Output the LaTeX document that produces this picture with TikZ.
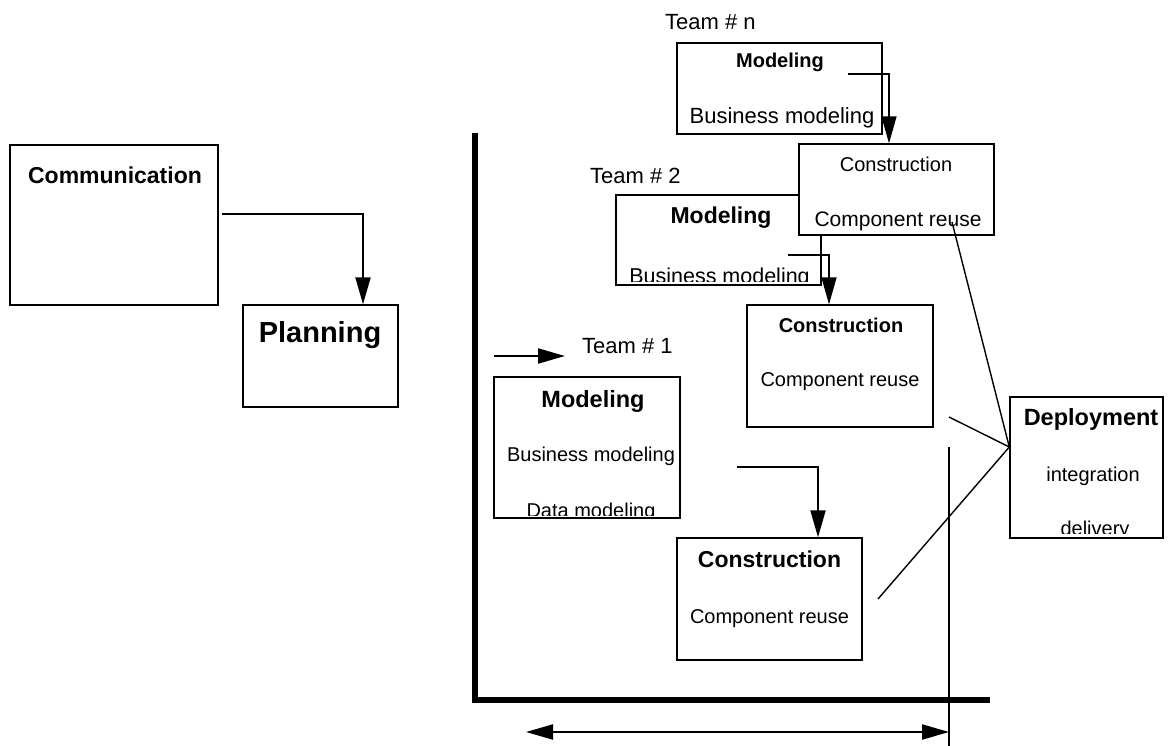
\documentclass[tikz,border=0pt]{standalone}
\usepackage{fontspec}
\setmainfont{Liberation Sans}
\usepackage{tikz}
\usetikzlibrary{arrows.meta,positioning}

\begin{document}
\begin{tikzpicture}[x=1pt,y=-1pt,
  box/.style={draw,line width=1.4pt,fill=white,inner sep=0pt},
  txt/.style={anchor=base,inner sep=0pt,font=\fontsize{#1}{#1}\selectfont},
  btxt/.style={anchor=base,inner sep=0pt,font=\bfseries\fontsize{#1}{#1}\selectfont},
  flow/.style={line width=2pt,-{Triangle[length=27pt,width=15pt]}},
  link/.style={line width=1.4pt}]
\useasboundingbox (0,0) rectangle (1169,746);
% time axis
\coordinate (top) at (475,133);
\coordinate (orig) at (475,700);
\coordinate (xend) at (990,700);
\draw[line width=6pt] (top) -- (orig) -- (xend);
% communication and planning
\node[box,minimum width=208pt,minimum height=160pt] (comm) at (114,225) {};
\node[btxt=23] (commt) at (115,183) {Communication};
\node[box,minimum width=155pt,minimum height=102pt] (plan) at (320.5,356) {};
\node[btxt=29] (plant) at (320,342) {Planning};
\coordinate (ca) at (222,214);
\draw[flow] (ca) -| ([xshift=42.5pt]plan.north);
% team n
\node[txt=22,anchor=base west] (tn) at (665,30) {Team \# n};
\node[box,minimum width=205pt,minimum height=91pt] (mn) at (779.5,88.5) {};
\node[btxt=20] (mnt) at (780,68) {Modeling};
\node[txt=22] (mnb) at (782,124) {Business modeling};
% team 2
\node[txt=22,anchor=base west] (t2) at (590,184) {Team \# 2};
\node[box,minimum width=205pt,minimum height=90pt] (m2) at (718.5,240) {};
\node[btxt=23] (m2t) at (721,223) {Modeling};
\begin{scope}
\clip ([yshift=4pt]m2.south west) rectangle (m2.north east);
\node[txt=21.5] (m2b) at (719.5,283) {Business modeling};
\end{scope}
\node[box,minimum width=195pt,minimum height=91pt] (cn) at (896.5,189.5) {};
\node[txt=20] (cnt) at (896,172) {Construction};
\node[txt=21] (cnb) at (898,226) {Component reuse};
\node[box,minimum width=186pt,minimum height=122pt] (c2) at (840,366) {};
\node[btxt=20] (c2t) at (841,332) {Construction};
\node[txt=20] (c2b) at (840,386) {Component reuse};
% team 1
\coordinate (a0) at (494,356);
\coordinate (a0b) at (565,356);
\draw[flow] (a0) -- (a0b);
\node[txt=22,anchor=base west] (t1) at (582,353) {Team \# 1};
\node[box,minimum width=186pt,minimum height=141pt] (m1) at (587,447.5) {};
\node[btxt=23.5] (m1t) at (593,407) {Modeling};
\node[txt=20] (m1b) at (591,461) {Business modeling};
\begin{scope}
\clip ([yshift=3pt]m1.south west) rectangle (m1.north east);
\node[txt=20] (m1d) at (591,517) {Data modeling};
\end{scope}
\node[box,minimum width=185pt,minimum height=122pt] (c1) at (769.5,599) {};
\node[btxt=23] (c1t) at (769.5,567) {Construction};
\node[txt=20] (c1b) at (769.5,623) {Component reuse};
% deployment
\node[box,minimum width=153pt,minimum height=141pt] (dep) at (1086.5,467.5) {};
\node[btxt=23.5] (dept) at (1091,425) {Deployment};
\node[txt=20] (depi) at (1093,481) {integration};
\begin{scope}
\clip ([yshift=5pt]dep.south west) rectangle (dep.north east);
\node[txt=20] (depd) at (1095,535) {delivery};
\end{scope}
% modeling -> construction
\coordinate (an) at (848,74);
\draw[flow,line width=1.5pt] (an) -| ([xshift=-7.5pt]cn.north);
\coordinate (a2) at (788,255);
\draw[flow,line width=1.5pt] (a2) -| ([xshift=-11pt]c2.north);
\coordinate (a1) at (737,467);
\draw[flow] (a1) -| ([xshift=48.5pt]c1.north);
% construction -> deployment
\coordinate (din) at ([yshift=20.5pt]dep.west);
\coordinate (l1) at (952,222);
\coordinate (l2) at (949,417);
\coordinate (l3) at (878,599);
\draw[link] (l1) -- (din);
\draw[link] (l2) -- (din);
\draw[link] (l3) -- (din);
% time span
\coordinate (v1) at (949,447);
\coordinate (v2) at (949,746);
\draw[link] (v1) -- (v2);
\coordinate (d1) at (526,732);
\coordinate (d2) at (949,732);
\draw[line width=2pt,{Triangle[length=27pt,width=15pt]}-{Triangle[length=27pt,width=15pt]}] (d1) -- (d2);
\end{tikzpicture}
\end{document}
